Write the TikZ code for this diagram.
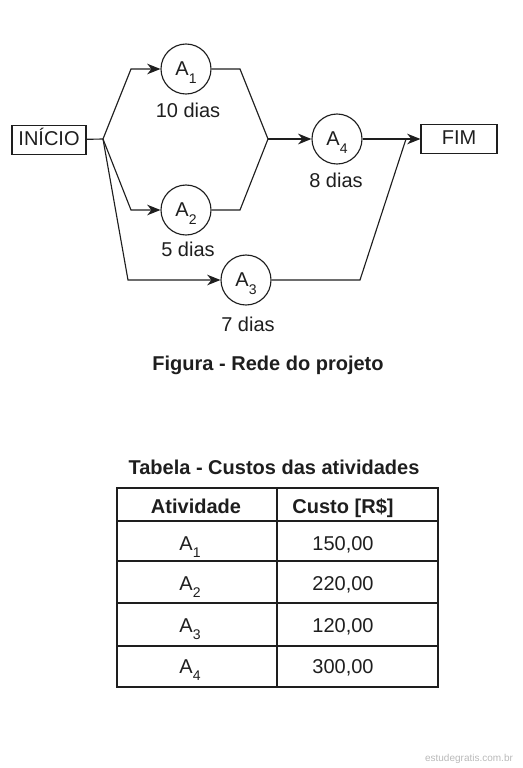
\documentclass[tikz,border=0pt]{standalone}
\usepackage{fontspec}
\setmainfont{Liberation Sans}
\usetikzlibrary{arrows.meta}
\definecolor{ink}{HTML}{1E1E1E}
\newcommand{\actname}[1]{A\raisebox{-0.75ex}[0pt][0pt]{\fontsize{10.5}{10.5}\selectfont #1}}

\begin{document}
\begin{tikzpicture}[x=0.75pt, y=-0.75pt, line width=0.85pt, draw=ink, text=ink,
    font=\fontsize{15}{17}\selectfont,
    >={Stealth[length=10pt, width=8pt]},
    endbox/.style={draw, rectangle, minimum height=21.75pt, inner sep=2pt,
        text height=1.6ex, text depth=0pt},
    actnode/.style={draw, circle, minimum size=37.5pt, inner sep=0pt},
    title/.style={font=\fontsize{15}{18}\selectfont\bfseries}]
    \useasboundingbox (0,0) rectangle (522,768);

    % network
    \node[endbox, minimum width=55.5pt] (ini) at (49,140) {INÍCIO};
    \node[endbox, minimum width=57pt] (fim) at (459,139) {FIM};

    \node[actnode] (a1) at (186,69) {\actname{1}};
    \node (d1) at (188,110) {10 dias};

    \node[actnode] (a2) at (186,210) {\actname{2}};
    \node (d2) at (188,249) {5 dias};

    \node[actnode] (a3) at (246,280) {\actname{3}};
    \node (d3) at (248,324) {7 dias};

    \node[actnode] (a4) at (337,139) {\actname{4}};
    \node (d4) at (336,180) {8 dias};

    \coordinate (s) at (103,139);
    \coordinate (s1) at (131,69);
    \coordinate (s2) at (131,210);
    \coordinate (s3) at (128,280);
    \coordinate (j1) at (240,69);
    \coordinate (j2) at (240,210);
    \coordinate (j) at (268,139);
    \coordinate (e3) at (360,280);
    \coordinate (f) at (406,139);

    \draw (ini) -- (s);
    \draw[->] (s) -- (s1) -- (a1);
    \draw[->] (s) -- (s2) -- (a2);
    \draw[->] (s) -- (s3) -- (a3);
    \draw (a1) -- (j1) -- (j);
    \draw (a2) -- (j2) -- (j);
    \draw[->, line width=1.6pt] (j) -- (a4);
    \draw[->] (a4) -- (fim);
    \draw (a3) -- (e3) -- (f);

    \node[title] (fig) at (268,365) {Figura - Rede do projeto};

    % table
    \node[title] (tab) at (274,467) {Tabela - Custos das atividades};
    \draw (117,488) rectangle (438,687);
    \draw (277,488) -- (277,687);
    \foreach \y in {521,561,603,646}
        \draw (117,\y) -- (438,\y);
    \node[title, anchor=base] (h1) at (196,513) {Atividade};
    \node[title, anchor=base] (h2) at (343,513) {Custo [R\$]};
    \foreach \i/\y/\c in {1/550/{150,00}, 2/590/{220,00}, 3/632/{120,00}, 4/673/{300,00}} {
        \node[anchor=base] (r\i) at (190,\y) {\actname{\i}};
        \node[anchor=base] (c\i) at (343,\y) {\c};
    }

    \node[text=gray!55, font=\fontsize{7.5}{9}\selectfont] (wm) at (469,759) {estudegratis.com.br};
\end{tikzpicture}
\end{document}
